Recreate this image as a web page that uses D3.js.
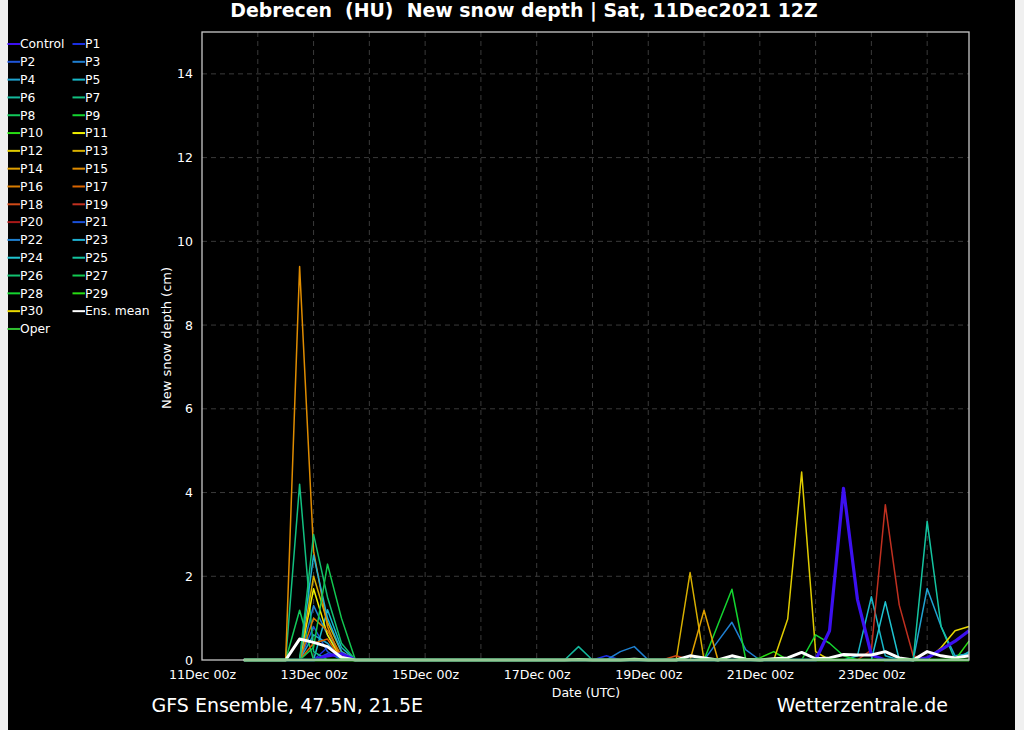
<!DOCTYPE html>
<html><head><meta charset="utf-8">
<script src="https://cdn.jsdelivr.net/npm/d3@7"></script>
<style>
html,body{margin:0;padding:0;background:#f0f0f0;}
svg{display:block;}
text{font-family:"DejaVu Sans",sans-serif;fill:#ffffff;}
</style></head><body>
<svg id="chart" width="1024" height="730"></svg>
<script>
// ---- data (6-hourly, 11Dec 18z ... 24Dec 18z; groups: [11/18z], then 4 per day 00/06/12/18z for 12Dec..24Dec)
const memberNames = ["Control","P1","P2","P3","P4","P5","P6","P7","P8","P9","P10","P11","P12","P13","P14","P15","P16","P17","P18","P19","P20","P21","P22","P23","P24","P25","P26","P27","P28","P29","P30","Ens. mean","Oper"];
const yTickValues = [0,2,4,6,8,10,12,14];
const xTickLabels = ["11Dec 00z","13Dec 00z","15Dec 00z","17Dec 00z","19Dec 00z","21Dec 00z","23Dec 00z"];

const control = [0, 0,0,0,0, 0,0.1,0.15,0, 0,0,0,0, 0,0,0,0, 0,0,0,0, 0,0,0,0, 0,0,0,0, 0,0,0,0, 0,0,0,0, 0,0,0,0, 0,0.7,4.1,1.45, 0.12,0,0,0, 0.05,0.25,0.45,0.7];
const p1  = [0, 0,0,0,0, 0,0.3,0.1,0, 0,0,0,0, 0,0,0,0, 0,0,0,0, 0,0,0,0, 0,0.1,0,0, 0,0,0,0, 0,0,0,0, 0,0,0,0, 0,0,0,0, 0,0,0,0, 0,0,0,0];
const p2  = [0, 0,0,0,0, 0.8,0.2,0,0, 0,0,0,0, 0,0,0,0, 0,0,0,0, 0,0,0,0, 0,0,0,0, 0,0,0,0, 0,0,0,0, 0,0,0,0, 0,0,0,0, 0,0,0,0, 0,0,0,0];
const p3  = [0, 0,0,0,0, 1.3,0.6,0.1,0, 0,0,0,0, 0,0,0,0, 0,0,0,0, 0,0,0,0, 0,0,0,0, 0,0,0,0, 0,0.45,0.9,0.24, 0,0,0,0, 0,0,0,0, 0,0,0,0, 0,0,0,0];
const p4  = [0, 0,0,0,0, 0.6,0.4,0,0, 0,0,0,0, 0,0,0,0, 0,0,0,0, 0,0,0,0, 0,0,0,0, 0,0,0,0, 0,0,0,0, 0,0,0,0, 0,0,0,0, 0,0,0,0, 1.71,0.8,0.1,0.15];
const p5  = [0, 0,0,0,0, 0,1.2,0.3,0, 0,0,0,0, 0,0,0,0, 0,0,0,0, 0,0,0,0, 0,0,0,0, 0,0,0,0, 0,0,0,0, 0,0,0,0, 0,0,0,0.1, 1.51,0.1,0,0, 0,0,0,0.2];
const p6  = [0, 0,0,0,0, 0,0,0,0, 0,0,0,0, 0,0,0,0, 0,0,0,0, 0,0,0,0.32, 0,0,0,0, 0,0,0,0, 0,0,0,0, 0,0,0,0, 0,0,0,0, 0,0,0,0, 0,0,0,0];
const p7  = [0, 0,0,0,4.2, 0.2,0,0,0, 0,0,0,0, 0,0,0,0, 0,0,0,0, 0,0,0,0, 0,0,0,0, 0,0,0,0, 0,0,0,0, 0,0,0,0, 0,0,0,0, 0,0,0,0, 0,0,0,0];
const p8  = [0, 0,0,0,1.19, 0,0,0,0, 0,0,0,0, 0,0,0,0, 0,0,0,0, 0,0,0,0, 0,0,0,0, 0,0,0,0, 0,0,0,0, 0,0,0,0, 0,0,0,0, 0,0,0,0, 0,0,0,0];
const p9  = [0, 0,0,0,0, 0,0,0,0, 0,0,0,0, 0,0,0,0, 0,0,0,0, 0,0,0,0, 0,0,0,0, 0,0,0,0, 0,0.85,1.69,0, 0,0,0,0, 0,0,0,0, 0,0,0,0, 0,0,0,0];
const p10 = [0, 0,0,0,0, 0,0,0,0, 0,0,0,0, 0,0,0,0, 0,0,0,0, 0,0,0,0, 0,0,0,0, 0,0,0,0, 0,0,0,0, 0.05,0.2,0,0, 0,0,0,0, 0,0,0,0, 0,0,0,0];
const p11 = [0, 0,0,0,0, 1.7,0.6,0,0, 0,0,0,0, 0,0,0,0, 0,0,0,0, 0,0,0,0, 0,0,0,0, 0,0,0,0, 0,0,0,0, 0,0,0,0, 0,0,0,0, 0,0,0,0, 0,0,0,0];
const p12 = [0, 0,0,0,0, 0,0,0,0, 0,0,0,0, 0,0,0,0, 0,0,0,0, 0,0,0,0, 0,0,0,0, 0,0,0,0, 0,0,0,0, 0,0,0.98,4.49, 0.2,0,0,0, 0,0,0,0, 0,0,0,0];
const p13 = [0, 0,0,0,0, 2.0,0.9,0.2,0, 0,0,0,0, 0,0,0,0, 0,0,0,0, 0,0,0,0, 0,0,0,0, 0,0,0,2.09, 0,0,0,0, 0,0,0,0, 0,0,0,0, 0,0,0,0, 0,0,0,0];
const p14 = [0, 0,0,0,0, 0,0,0,0, 0,0,0,0, 0,0,0,0, 0,0,0,0, 0,0,0,0, 0,0,0,0, 0,0,0,0, 1.19,0,0,0, 0,0,0,0, 0,0,0,0, 0,0,0,0, 0,0,0,0];
const p15 = [0, 0,0,0,9.4, 2.6,0.8,0,0, 0,0,0,0, 0,0,0,0, 0,0,0,0, 0,0,0,0, 0,0,0,0, 0,0,0,0, 0,0,0,0, 0,0,0,0, 0,0,0,0, 0,0,0,0, 0,0,0,0];
const p16 = [0, 0,0,0,0, 1.0,0.7,0.1,0, 0,0,0,0, 0,0,0,0, 0,0,0,0, 0,0,0,0, 0,0,0,0, 0,0,0,0, 0,0,0,0, 0,0,0,0, 0,0,0,0, 0,0,0,0, 0,0,0,0];
const p17 = [0, 0,0,0,0, 0.4,0.5,0,0, 0,0,0,0, 0,0,0,0, 0,0,0,0, 0,0,0,0, 0,0,0,0, 0,0,0,0, 0,0,0,0, 0,0,0,0, 0,0,0,0, 0,0,0,0, 0,0,0,0];
const p18 = [0, 0,0,0,0, 0,0,0,0, 0,0,0,0, 0,0,0,0, 0,0,0,0, 0,0,0,0, 0,0,0,0, 0,0,0.1,0, 0,0,0,0, 0,0,0,0, 0,0,0,0, 0,0,0,0, 0,0,0,0];
const p19 = [0, 0,0,0,0, 0,0,0,0, 0,0,0,0, 0,0,0,0, 0,0,0,0, 0,0,0,0, 0,0,0,0, 0,0,0,0, 0,0,0,0, 0,0,0,0, 0,0,0,0, 0.24,3.71,1.31,0.1, 0,0,0,0];
const p20 = [0, 0,0,0,0, 0,0,0,0, 0,0,0,0, 0,0,0,0, 0,0,0,0, 0,0,0,0, 0,0,0,0, 0,0,0,0, 0,0,0,0, 0,0,0,0, 0,0,0,0, 0,0,0,0, 0,0,0,0];
const p21 = [0, 0,0,0,0, 0,0.15,0.05,0, 0,0,0,0, 0,0,0,0, 0,0,0,0, 0,0,0,0, 0,0,0,0, 0,0,0,0, 0,0,0,0, 0,0,0,0, 0,0,0,0, 0,0,0,0, 0,0,0,0];
const p22 = [0, 0,0,0,0, 0,0,0,0, 0,0,0,0, 0,0,0,0, 0,0,0,0, 0,0,0,0, 0,0,0.2,0.32, 0,0,0,0, 0,0,0,0, 0,0,0,0, 0,0,0,0, 0,0,0,0, 0,0,0,0];
const p23 = [0, 0,0,0,0, 2.5,1.0,0.2,0, 0,0,0,0, 0,0,0,0, 0,0,0,0, 0,0,0,0, 0,0,0,0, 0,0,0,0, 0,0,0,0, 0,0,0,0, 0,0,0,0, 0,0,0,0, 0,0,0,0];
const p24 = [0, 0,0,0,0, 0,0,0,0, 0,0,0,0, 0,0,0,0, 0,0,0,0, 0,0,0,0, 0,0,0,0, 0,0,0,0, 0,0,0,0, 0,0,0,0, 0,0,0,0, 0,1.39,0,0, 0,0,0,0];
const p25 = [0, 0,0,0,0, 0,0,0,0, 0,0,0,0, 0,0,0,0, 0,0,0,0, 0,0,0,0, 0,0,0,0, 0,0,0,0, 0,0,0,0, 0,0,0,0, 0,0,0,0, 0,0,0,0, 3.31,0.8,0,0];
const p26 = [0, 0,0,0,0, 3.0,1.5,0.4,0, 0,0,0,0, 0,0,0,0, 0,0,0,0, 0,0,0,0, 0,0,0,0, 0,0,0,0, 0,0,0,0, 0,0,0,0, 0,0,0,0, 0,0,0,0, 0,0,0,0];
const p27 = [0, 0,0,0,0, 0.3,2.29,1.0,0, 0,0,0,0, 0,0,0,0, 0,0,0,0, 0,0,0,0, 0,0,0,0, 0,0,0,0, 0,0,0,0, 0,0,0,0, 0,0,0,0, 0,0,0,0, 0,0,0,0];
const p28 = [0, 0,0,0,0, 0,0,0,0, 0,0,0,0, 0,0,0,0, 0,0,0,0, 0,0,0,0, 0,0,0,0, 0,0,0,0, 0,0,0,0, 0,0,0,0, 0.6,0.4,0.1,0, 0,0,0,0, 0,0,0,0];
const p29 = [0, 0,0,0,0, 0,0,0,0, 0,0,0,0, 0,0,0,0, 0,0,0,0, 0,0,0,0, 0,0,0,0, 0,0,0,0, 0,0,0,0, 0,0,0,0, 0,0,0,0, 0,0,0,0, 0,0,0,0.45];
const p30 = [0, 0,0,0,0, 0,0,0,0, 0,0,0,0, 0,0,0,0, 0,0,0,0, 0,0,0,0, 0,0,0,0, 0,0,0,0, 0,0,0,0, 0,0,0,0, 0,0,0,0, 0,0,0,0, 0,0.3,0.7,0.8];
const ensMean = [0, 0,0,0,0.5, 0.42,0.32,0.06,0, 0,0,0,0, 0,0,0,0, 0,0,0,0, 0,0,0,0.01, 0,0,0,0.02, 0,0,0,0.1, 0.05,0,0.1,0.02, 0,0.03,0.05,0.18, 0.03,0.05,0.13,0.12, 0.12,0.2,0.05,0, 0.2,0.1,0.05,0.1];
const oper = [0, 0,0,0,0, 0,0,0,0, 0,0,0,0, 0,0,0,0, 0,0,0,0, 0,0,0,0, 0,0,0,0, 0,0,0,0, 0,0,0,0, 0,0,0,0, 0,0,0,0, 0,0,0,0, 0,0,0,0];

// ---- styles
const memberColors = ["#3c10f0","#1a2fe0","#1f55d8","#1f7fd0","#1fa3d0","#18b8c8","#14b89c","#12c080","#12c85a","#14d430","#28dc14",
  "#f0f000","#e0cc00","#d8b000","#e0a000","#e08c00","#d87c00","#d86400","#d04a18","#c03020","#a81818",
  "#1a50d8","#1f80d0","#1fb0d0","#1fc4d0","#14c4a0","#12c070","#12c850","#14d430","#28dc14","#e8d800","#ffffff","#30c030"];
const memberValues = [control,p1,p2,p3,p4,p5,p6,p7,p8,p9,p10,p11,p12,p13,p14,p15,p16,p17,p18,p19,p20,p21,p22,p23,p24,p25,p26,p27,p28,p29,p30,ensMean,oper];

const svg = d3.select("#chart");
svg.append("rect").attr("x",8).attr("y",0).attr("width",1007).attr("height",730).attr("fill","#000");

const L=202,R=969,T=32,B=660;
const t0 = Date.UTC(2021,11,11,18);
const times = d3.range(control.length).map(i => new Date(t0 + i*6*3600e3));
const x = d3.scaleUtc().domain([new Date(Date.UTC(2021,11,11,0)), new Date(Date.UTC(2021,11,24,18))]).range([L,R]);
const y = d3.scaleLinear().domain([0,15]).range([B,T]);

// grid
const days = d3.utcDay.range(new Date(Date.UTC(2021,11,12)), new Date(Date.UTC(2021,11,25)));
svg.append("g").selectAll("line").data(days).join("line")
  .attr("x1",d=>x(d)).attr("x2",d=>x(d)).attr("y1",T).attr("y2",B)
  .attr("stroke","#3a3a3a").attr("stroke-width",1).attr("stroke-dasharray","5,4");
svg.append("g").selectAll("line").data(yTickValues.filter(v=>v>0)).join("line")
  .attr("x1",L).attr("x2",R).attr("y1",d=>y(d)).attr("y2",d=>y(d))
  .attr("stroke","#3a3a3a").attr("stroke-width",1).attr("stroke-dasharray","5,4");

// axes
const yAxis = svg.append("g").attr("transform",`translate(${L},0)`)
  .call(d3.axisLeft(y).tickValues(yTickValues).tickSize(0).tickPadding(9));
yAxis.select(".domain").remove();
yAxis.selectAll("text").attr("fill","#fff").style("font-size","12.5px").style("font-family","DejaVu Sans");

const xTickDates = xTickLabels.map((s,i)=> new Date(Date.UTC(2021,11,11+2*i,0)));
const xAxis = svg.append("g").attr("transform",`translate(0,${B})`)
  .call(d3.axisBottom(x).tickValues(xTickDates).tickFormat((d,i)=>xTickLabels[i]).tickSize(0).tickPadding(10));
xAxis.select(".domain").remove();
xAxis.selectAll("text").attr("fill","#fff").style("font-size","12.6px").style("font-family","DejaVu Sans");

// lines
const line = d3.line().x((d,i)=>x(times[i])).y(d=>y(d));
const order = d3.range(1,31).concat([0,31,32]);
svg.append("g").selectAll("path").data(order).join("path")
  .attr("d",k=>line(memberValues[k]))
  .attr("fill","none")
  .attr("stroke",k=>memberColors[k])
  .attr("stroke-width",k=> k===0 ? 3.2 : (k===31 ? 3 : (k===32 ? 3 : 1.5)))
  .attr("stroke-linejoin","round");

// frame
svg.append("rect").attr("x",L).attr("y",T).attr("width",R-L).attr("height",B-T)
  .attr("fill","none").attr("stroke","#c8c8c8").attr("stroke-width",1.3);

// legend
const lg = svg.append("g");
memberNames.forEach((name,k)=>{
  const col = k%2, row = Math.floor(k/2);
  const x0 = col===0 ? 7.5 : 72.5;
  const yy = 44 + row*17.81;
  lg.append("line").attr("x1",x0).attr("x2",x0+12.5).attr("y1",yy).attr("y2",yy)
    .attr("stroke",memberColors[k]).attr("stroke-width",2);
  lg.append("text").attr("x",x0+12.5).attr("y",yy).attr("dy","0.35em")
    .style("font-size","12.3px").text(name);
});

// titles
svg.append("text").attr("x",524).attr("y",17).attr("text-anchor","middle")
  .style("font-size","18.9px").style("font-weight","bold").style("white-space","pre")
  .text("Debrecen  (HU)  New snow depth | Sat, 11Dec2021 12Z");
svg.append("text").attr("transform","translate(166,338) rotate(-90)").attr("text-anchor","middle")
  .attr("dy","0.35em").style("font-size","13px").text("New snow depth (cm)");
svg.append("text").attr("x",586).attr("y",697).attr("text-anchor","middle")
  .style("font-size","12.5px").text("Date (UTC)");
svg.append("text").attr("x",151.5).attr("y",712).style("font-size","19px").attr("fill","#e8e8e8")
  .text("GFS Ensemble, 47.5N, 21.5E");
svg.append("text").attr("x",948).attr("y",712).attr("text-anchor","end").style("font-size","19px")
  .text("Wetterzentrale.de");
</script></body></html>
